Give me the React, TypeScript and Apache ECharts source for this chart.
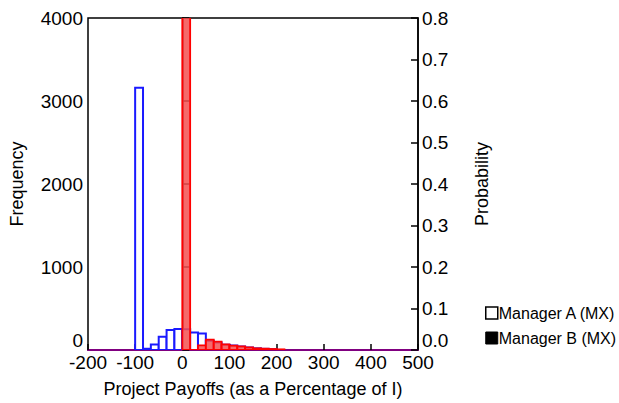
import React, { useEffect, useRef } from "react";
import * as echarts from "echarts";

// Bin edges (as % of I) and frequencies
const binEdgesA = [-100, -83.3, -66.7, -50, -33.3, -16.7, 0, 16.7, 33.3, 50, 66.7, 83.3, 100, 116.7, 133.3, 150, 166.7, 183.3, 200];
const managerA = [3160, 15, 65, 160, 240, 252, 250, 212, 200, 110, 90, 62, 54, 42, 30, 20, 14, 10];

const binEdgesB = [0, 16.7, 33.3, 50, 66.7, 83.3, 100, 116.7, 133.3, 150, 166.7, 183.3, 200, 216.7];
const managerB = [4800, 0, 56, 124, 100, 68, 52, 44, 32, 20, 16, 12, 8];

const xTicks = [-200, 500, 100];
const freqTicks = [0, 4000, 1000];
const probTicks = [0, 0.8, 0.1];

const nameA = "Manager A (MX)";
const nameB = "Manager B (MX)";

const FONT = "'Liberation Sans', Arial, sans-serif";

function toRows(edges: number[], vals: number[]) {
  return vals.map((v, i) => [edges[i], edges[i + 1], v]);
}

function barRenderer(fill: string, stroke: string, lw: number) {
  return (params: any, api: any) => {
    const x0 = api.value(0);
    const x1 = api.value(1);
    const v = api.value(2);
    const p0 = api.coord([x0, v]);
    const p1 = api.coord([x1, 0]);
    return {
      type: "rect",
      shape: { x: p0[0], y: p0[1], width: p1[0] - p0[0], height: p1[1] - p0[1] },
      style: { fill, stroke, lineWidth: lw },
    };
  };
}

export default function App() {
  const ref = useRef<HTMLDivElement>(null);
  useEffect(() => {
    if (!ref.current) return;
    const chart = echarts.init(ref.current, null, { renderer: "svg" });
    chart.setOption({
      animation: false,
      backgroundColor: "#fff",
      textStyle: { fontFamily: FONT },
      grid: { left: 88, right: 201, top: 18, bottom: 52, show: true, borderColor: "#000", borderWidth: 1.5, backgroundColor: "transparent" },
      legend: {
        orient: "vertical",
        left: 485,
        top: 305,
        padding: 0,
        itemWidth: 12,
        itemHeight: 12,
        itemGap: 9,
        textStyle: { fontSize: 16, color: "#000", fontFamily: FONT, padding: [0, 0, 0, -4] },
        data: [
          { name: nameA, icon: "rect", itemStyle: { color: "#fff", borderColor: "#000", borderWidth: 1.5 } },
          { name: nameB, icon: "rect", itemStyle: { color: "#000", borderColor: "#000", borderWidth: 1 } },
        ],
      },
      xAxis: {
        type: "value",
        min: xTicks[0],
        max: xTicks[1],
        interval: xTicks[2],
        name: "Project Payoffs (as a Percentage of I)",
        nameLocation: "middle",
        nameGap: 30,
        nameTextStyle: { fontSize: 18, color: "#000", fontFamily: FONT },
        axisLine: { show: true, lineStyle: { color: "#800080", width: 2 } },
        axisTick: { show: true, inside: true, length: 6, lineStyle: { color: "#000", width: 1.5 } },
        axisLabel: { fontSize: 19, color: "#000", margin: 3, fontFamily: FONT, formatter: (v: number) => String(v) },
        splitLine: { show: false },
      },
      yAxis: [
        {
          type: "value",
          min: freqTicks[0],
          max: freqTicks[1],
          interval: freqTicks[2],
          position: "left",
          name: "Frequency",
          nameLocation: "middle",
          nameGap: 62,
          nameRotate: 90,
          nameTextStyle: { fontSize: 18, color: "#000", fontFamily: FONT },
          axisLine: { show: true, lineStyle: { color: "#000", width: 1.5 } },
          axisTick: { show: true, inside: true, length: 7, lineStyle: { color: "#000", width: 1.5 } },
          axisLabel: { fontSize: 19, color: "#000", margin: 5, fontFamily: FONT, formatter: (v: number) => String(v), verticalAlignMinLabel: "bottom" },
          splitLine: { show: false },
        },
        {
          type: "value",
          min: probTicks[0],
          max: probTicks[1],
          interval: probTicks[2],
          position: "right",
          name: "Probability",
          nameLocation: "middle",
          nameGap: 55,
          nameRotate: 90,
          nameTextStyle: { fontSize: 18, color: "#000", fontFamily: FONT },
          axisLine: { show: true, lineStyle: { color: "#000", width: 1.5 } },
          axisTick: { show: true, inside: true, length: 7, lineStyle: { color: "#000", width: 1.5 } },
          axisLabel: { fontSize: 19, color: "#000", margin: 4, fontFamily: FONT, formatter: (v: number) => v.toFixed(1), verticalAlignMinLabel: "bottom" },
          splitLine: { show: false },
        },
      ],
      series: [
        {
          type: "custom",
          name: nameA,
          xAxisIndex: 0,
          yAxisIndex: 0,
          clip: true,
          encode: { x: [0, 1], y: 2 },
          data: toRows(binEdgesA, managerA),
          itemStyle: { color: "#fff", borderColor: "#000" },
          renderItem: barRenderer("#ffffff", "#1a1aff", 2),
        },
        {
          type: "custom",
          name: nameB,
          xAxisIndex: 0,
          yAxisIndex: 0,
          clip: true,
          encode: { x: [0, 1], y: 2 },
          data: toRows(binEdgesB, managerB),
          itemStyle: { color: "#000" },
          renderItem: barRenderer("rgba(245, 80, 80, 0.85)", "#ff0000", 1.8),
        },
      ],
    });
    return () => chart.dispose();
  }, []);
  return <div ref={ref} style={{ width: 619, height: 403, position: "absolute", left: 0, top: 0 }} />;
}
